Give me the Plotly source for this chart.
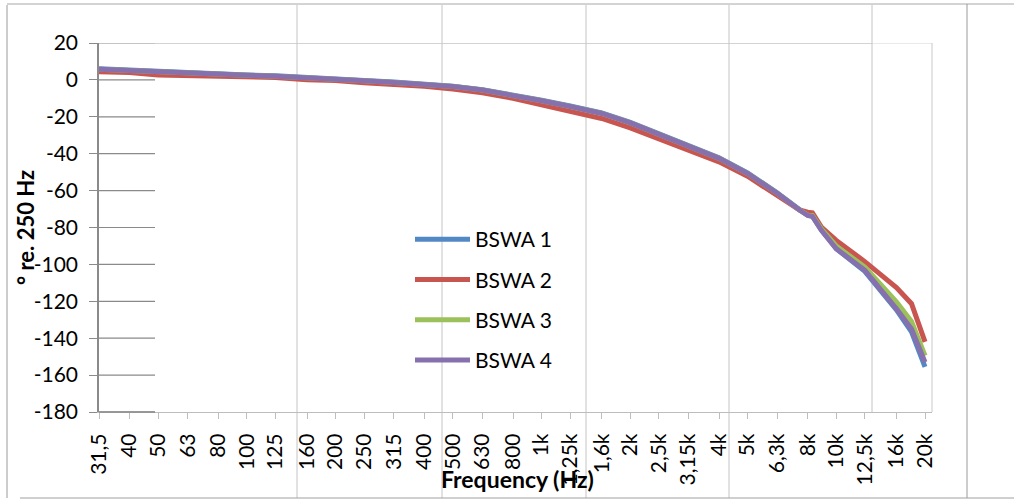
import math
import plotly.graph_objects as go

# ---------------- data ----------------
freqs = [31.5, 40, 50, 63, 80, 100, 125, 160, 200, 250, 315, 400, 500, 630, 800,
         1000, 1250, 1600, 2000, 2500, 3150, 4000, 5000, 6300, 7500, 8000, 8300,
         8900, 10000, 12500, 16000, 18000, 20000]

bswa1 = [6.0, 5.2, 4.5, 3.8, 3.2, 2.7, 2.2, 1.5, 0.6, -0.3, -1.2, -2.1, -3.4, -5.3,
         -8.0, -11.0, -14.1, -17.9, -23.0, -29.0, -35.3, -42.2, -50.4, -61.2, -70.3,
         -73.3, -73.8, -81.3, -91.5, -103.8, -124.6, -136.5, -155.5]

bswa2 = [4.4, 4.0, 2.7, 2.5, 2.1, 1.7, 1.3, 0.1, -0.3, -1.6, -2.4, -3.4, -4.9, -7.0,
         -10.0, -13.4, -17.0, -20.9, -26.0, -32.0, -38.0, -44.4, -52.2, -62.3, -70.5,
         -71.7, -72.0, -79.8, -87.0, -98.5, -112.6, -121.3, -142.0]

bswa3 = [5.8, 5.0, 4.4, 3.6, 3.0, 2.5, 2.0, 1.3, 0.4, -0.5, -1.4, -2.3, -3.6, -5.5,
         -8.2, -11.3, -14.4, -18.2, -23.3, -29.3, -35.6, -42.5, -50.7, -61.4, -70.5,
         -73.3, -73.6, -80.8, -90.0, -101.5, -120.3, -131.0, -149.5]

bswa4 = [5.8, 5.0, 4.4, 3.6, 3.0, 2.5, 2.0, 1.3, 0.4, -0.5, -1.4, -2.3, -3.6, -5.5,
         -8.2, -11.3, -14.4, -18.2, -23.3, -29.3, -35.6, -42.5, -50.7, -61.4, -70.5,
         -73.5, -74.0, -81.5, -91.5, -103.2, -124.0, -135.0, -153.0]

series_names = ["BSWA 1", "BSWA 2", "BSWA 3", "BSWA 4"]
series_colors = ["#5288C4", "#C8554F", "#9CC05A", "#8770AE"]

tick_freqs = [31.5, 40, 50, 63, 80, 100, 125, 160, 200, 250, 315, 400, 500, 630, 800,
              1000, 1250, 1600, 2000, 2500, 3150, 4000, 5000, 6300, 8000, 10000,
              12500, 16000, 20000]
tick_labels = ["31,5", "40", "50", "63", "80", "100", "125", "160", "200", "250", "315",
               "400", "500", "630", "800", "1k", "1,25k", "1,6k", "2k", "2,5k", "3,15k",
               "4k", "5k", "6,3k", "8k", "10k", "12,5k", "16k", "20k"]

y_ticks = [20, 0, -20, -40, -60, -80, -100, -120, -140, -160, -180]
y_tick_labels = ["20", "0", "-20", "-40", "-60", "-80", "-100", "-120", "-140", "-160", "-180"]

# ---------------- layout geometry (pixels) ----------------
W, H = 1014, 503
PL, PR, PT, PB = 99, 932, 43, 412      # plot area edges
pw, ph = PR - PL, PB - PT


def px(x):
    return (x - PL) / pw


def py(y):
    return (PB - y) / ph


FONT = "Lato, 'Open Sans', Arial, sans-serif"

fig = go.Figure()
for name, vals, col in zip(series_names, [bswa1, bswa2, bswa3, bswa4], series_colors):
    fig.add_trace(go.Scatter(
        x=freqs, y=vals, name=name, mode="lines",
        line=dict(color=col, width=5, shape="linear"),
        legendgroup=name,
    ))

x_hi = math.log10(20000) + 7 * (math.log10(20000 / 31.5) / 826)

shapes = []
# remnants of horizontal gridlines (only left section visible in reference)
for v in y_ticks:
    shapes.append(dict(type="line", xref="paper", yref="y", x0=0, x1=px(155), y0=v, y1=v,
                       line=dict(color="#8a8a8a", width=1.2), layer="below"))
# top gridline across
shapes.append(dict(type="line", xref="paper", yref="y", x0=px(155), x1=px(872), y0=20, y1=20,
                   line=dict(color="#a8a8a8", width=1.2), layer="below"))
shapes.append(dict(type="line", xref="paper", yref="y", x0=px(872), x1=px(932), y0=20, y1=20,
                   line=dict(color="#d4d4d4", width=1), layer="below"))
# vertical tile lines
for xv in [297, 442, 586, 729]:
    shapes.append(dict(type="line", xref="paper", yref="paper", x0=px(xv), x1=px(xv),
                       y0=py(5), y1=py(498), line=dict(color="#c4c4c4", width=1), layer="below"))
shapes.append(dict(type="line", xref="paper", yref="paper", x0=px(872), x1=px(872),
                   y0=py(5), y1=py(412), line=dict(color="#c4c4c4", width=1), layer="below"))
shapes.append(dict(type="line", xref="paper", yref="paper", x0=px(932), x1=px(932),
                   y0=py(43), y1=py(412), line=dict(color="#c8c8c8", width=1), layer="below"))
# outer chart border
shapes += [
    dict(type="line", xref="paper", yref="paper", x0=px(7), x1=px(7), y0=py(5), y1=py(498),
         line=dict(color="#9a9a9a", width=1)),
    dict(type="line", xref="paper", yref="paper", x0=px(7), x1=px(1014), y0=py(4), y1=py(4),
         line=dict(color="#a8a8a8", width=1)),
    dict(type="line", xref="paper", yref="paper", x0=px(967), x1=px(967), y0=py(4), y1=py(498),
         line=dict(color="#9a9a9a", width=1)),
    dict(type="line", xref="paper", yref="paper", x0=px(20), x1=px(1014), y0=py(498), y1=py(498),
         line=dict(color="#a0a0a0", width=1)),
    # darker segment of x-axis line on the left
    dict(type="line", xref="paper", yref="paper", x0=0, x1=px(155), y0=0, y1=0,
         line=dict(color="#8a8a8a", width=1.5)),
]

annotations = [
    dict(text="<b>° re. 250 Hz</b>", xref="paper", yref="paper", x=px(26), y=py(228),
         xanchor="center", yanchor="middle", textangle=-90, showarrow=False,
         font=dict(family=FONT, size=22, color="#000000")),
    dict(text="<b>Frequency (Hz)</b>", xref="paper", yref="paper", x=px(517), y=py(479),
         xanchor="center", yanchor="middle", showarrow=False,
         font=dict(family=FONT, size=23, color="#000000")),
]

fig.update_layout(
    width=W, height=H, autosize=False,
    margin=dict(l=PL, r=W - PR, t=PT, b=H - PB, pad=0),
    paper_bgcolor="white", plot_bgcolor="white",
    font=dict(family=FONT, size=21, color="#000000"),
    showlegend=True,
    legend=dict(x=px(410), y=py(219), xanchor="left", yanchor="top",
                bgcolor="rgba(0,0,0,0)", font=dict(family=FONT, size=21),
                traceorder="grouped", tracegroupgap=10, itemwidth=55),
    shapes=shapes,
    annotations=annotations,
    xaxis=dict(type="log", range=[math.log10(31.5), x_hi],
               tickmode="array", tickvals=tick_freqs, ticktext=tick_labels,
               tickangle=-90, ticks="outside", ticklen=6, tickcolor="#bdbdbd",
               ticklabelstandoff=6,
               showline=True, linecolor="#bdbdbd", linewidth=1.2,
               showgrid=False, zeroline=False,
               tickfont=dict(family=FONT, size=21)),
    yaxis=dict(range=[-180, 20], tickmode="array", tickvals=y_ticks, ticktext=y_tick_labels,
               ticks="outside", ticklen=8, tickcolor="#8a8a8a",
               ticklabelstandoff=7,
               showline=True, linecolor="#8a8a8a", linewidth=1.5,
               showgrid=False, zeroline=False,
               tickfont=dict(family=FONT, size=21)),
)

fig.write_html("out.html", config={"displayModeBar": False},
               post_script="document.body.style.margin='0px';")
